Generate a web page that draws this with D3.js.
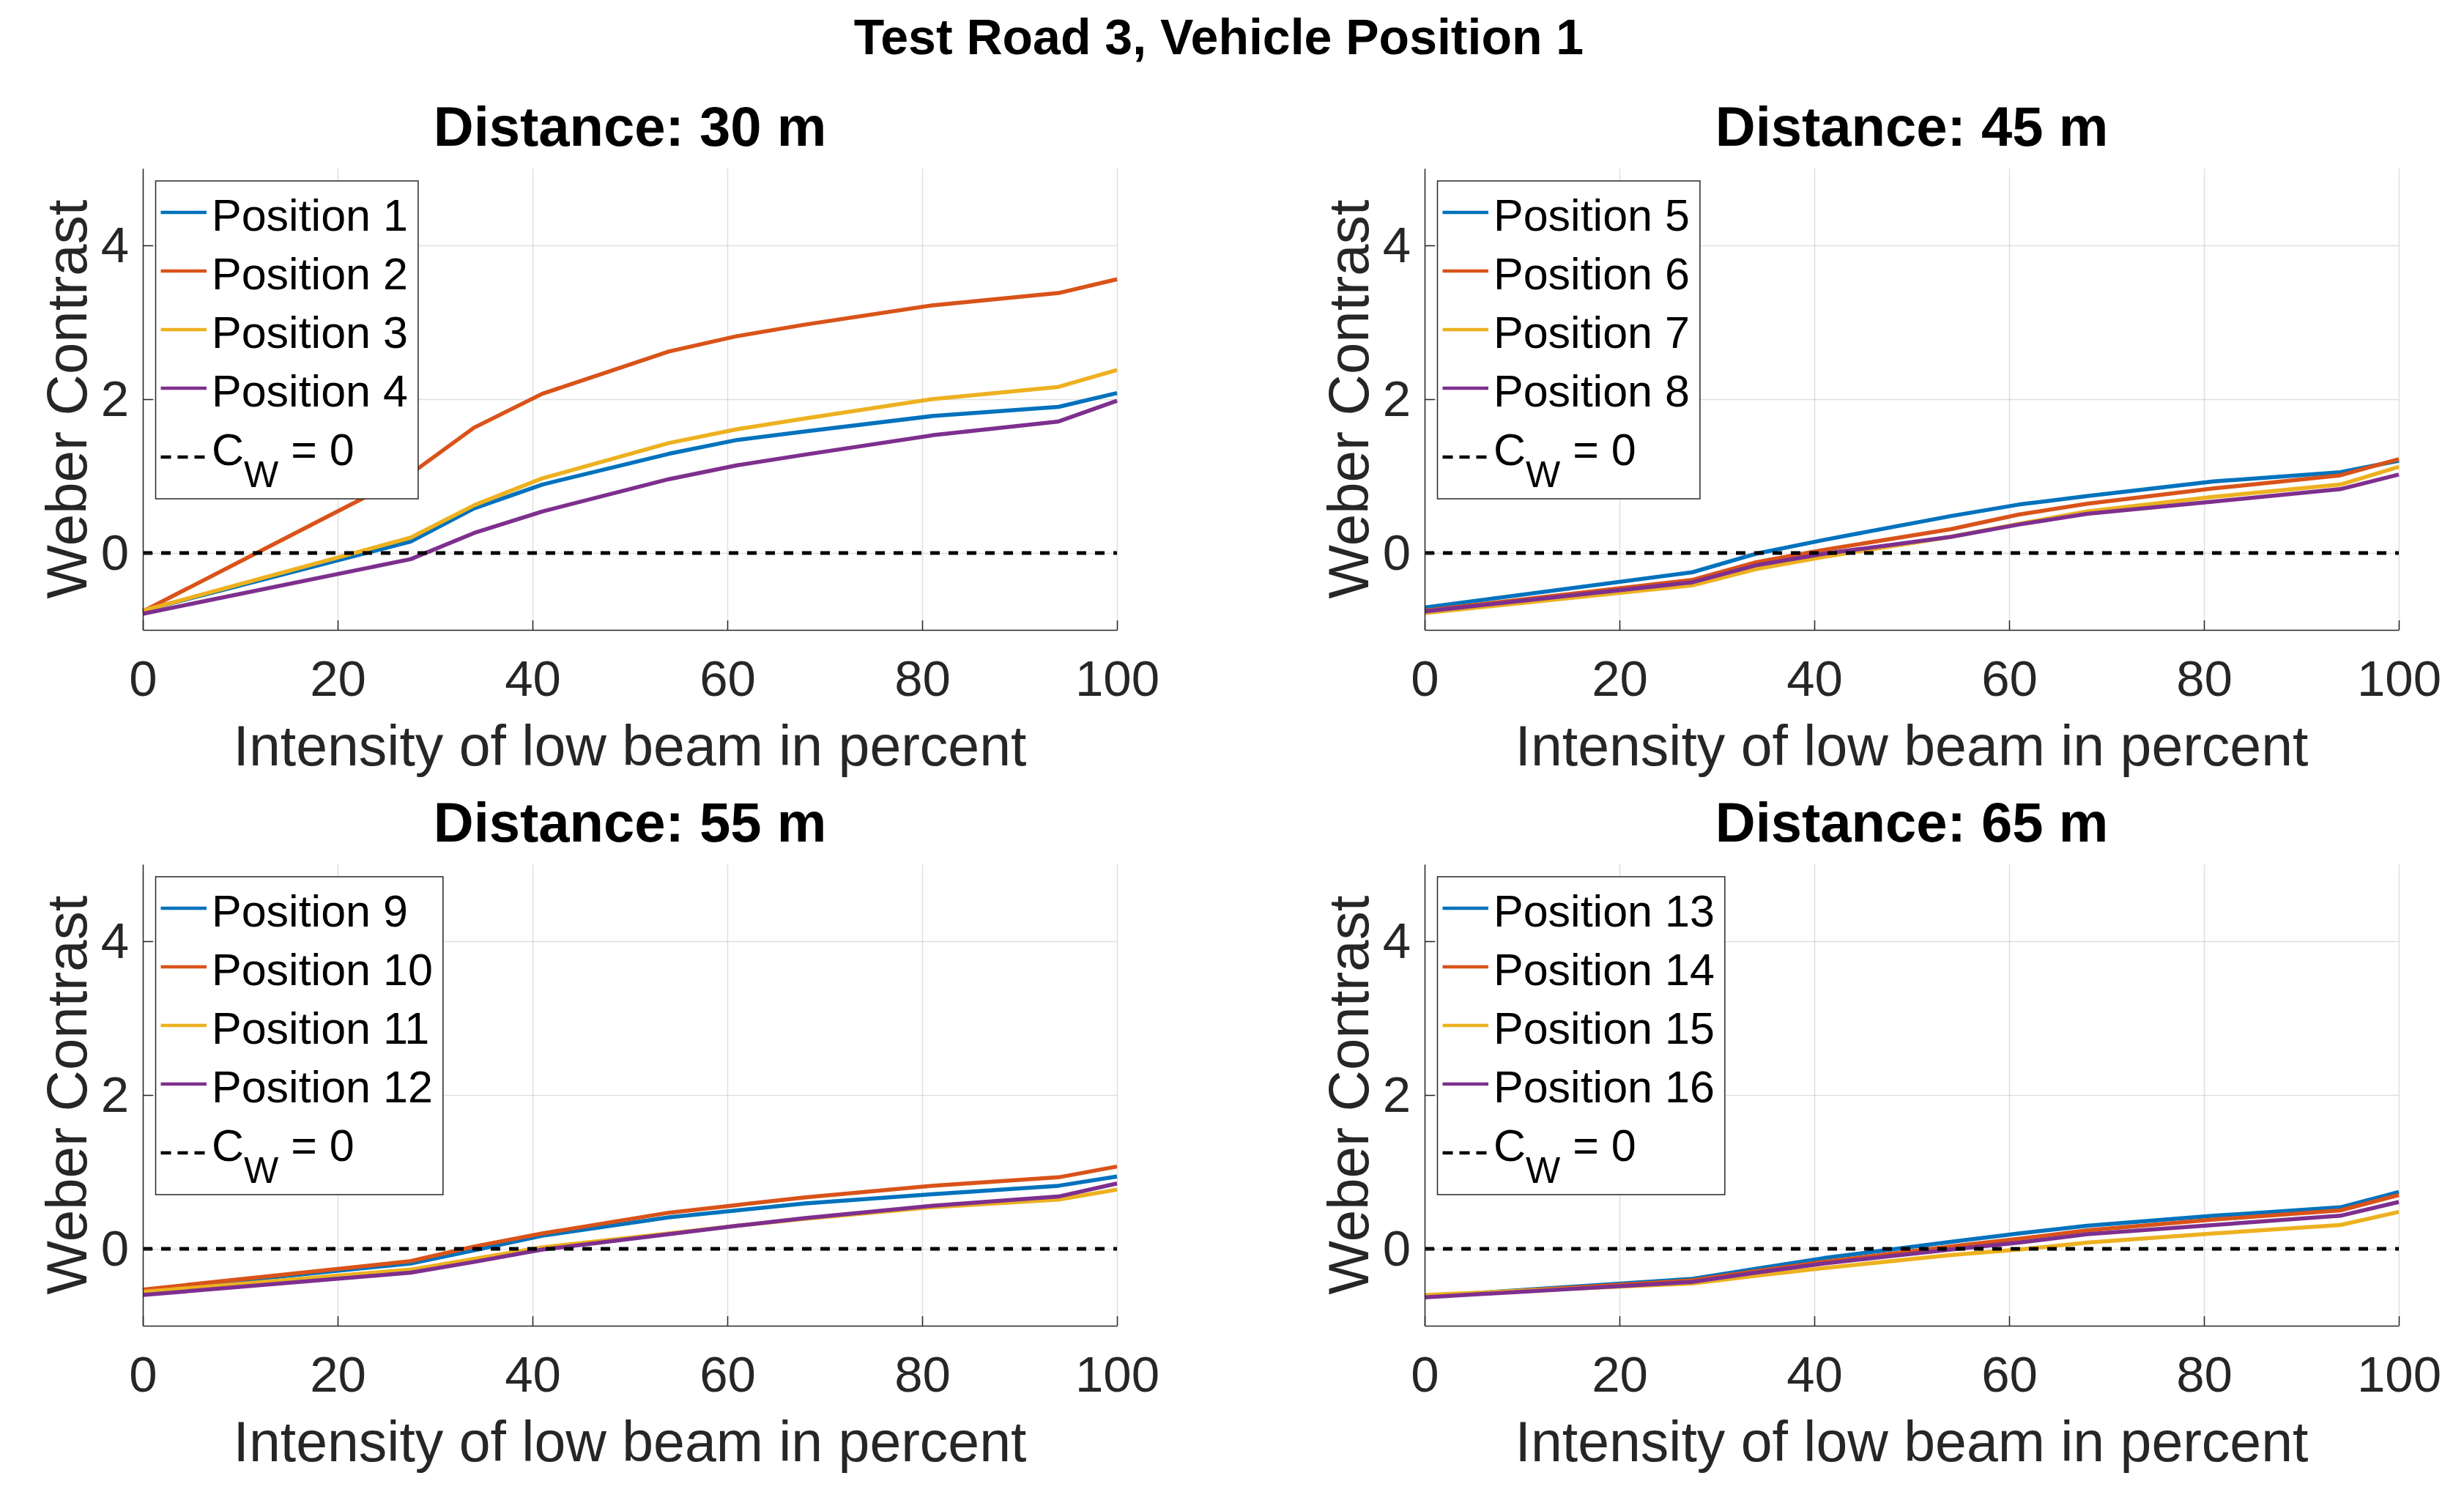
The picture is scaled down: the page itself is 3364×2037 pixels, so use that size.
<!DOCTYPE html>
<html>
<head>
<meta charset="utf-8">
<script src="https://cdn.jsdelivr.net/npm/d3@7"></script>
<style>
  body { margin: 0; background: #fff; }
</style>
</head>
<body>
<svg></svg>
<script>

// data

const intensity = [0, 27.5, 34, 41, 54, 61, 68, 81, 94, 100];

const pos1  = [-0.75,  0.15,  0.58,  0.89,  1.29,  1.47,  1.58,  1.78,  1.90,  2.08];
const pos2  = [-0.76,  1.03,  1.63,  2.07,  2.62,  2.82,  2.97,  3.22,  3.38,  3.56];
const pos3  = [-0.75,  0.20,  0.62,  0.97,  1.43,  1.61,  1.75,  2.00,  2.16,  2.38];
const pos4  = [-0.79, -0.08,  0.26,  0.54,  0.96,  1.14,  1.28,  1.53,  1.71,  1.98];

const pos5  = [-0.71, -0.25, -0.01,  0.17,  0.48,  0.63,  0.74,  0.93,  1.05,  1.20];
const pos6  = [-0.75, -0.35, -0.12,  0.04,  0.31,  0.50,  0.64,  0.84,  1.01,  1.22];
const pos7  = [-0.78, -0.42, -0.21, -0.05,  0.21,  0.38,  0.54,  0.73,  0.89,  1.12];
const pos8  = [-0.76, -0.38, -0.16, -0.01,  0.21,  0.37,  0.51,  0.67,  0.83,  1.02];

const pos9  = [-0.54, -0.19, -0.02,  0.17,  0.41,  0.50,  0.59,  0.71,  0.82,  0.94];
const pos10 = [-0.53, -0.16,  0.03,  0.20,  0.47,  0.57,  0.67,  0.82,  0.93,  1.07];
const pos11 = [-0.56, -0.27, -0.13,  0.02,  0.20,  0.30,  0.39,  0.54,  0.64,  0.77];
const pos12 = [-0.60, -0.31, -0.17, -0.01,  0.19,  0.30,  0.40,  0.56,  0.68,  0.85];

const pos13 = [-0.62, -0.39, -0.26, -0.12,  0.09,  0.20,  0.30,  0.43,  0.54,  0.74];
const pos14 = [-0.62, -0.41, -0.29, -0.17,  0.03,  0.13,  0.24,  0.38,  0.50,  0.70];
const pos15 = [-0.60, -0.45, -0.35, -0.25, -0.08, -0.01,  0.08,  0.20,  0.31,  0.48];
const pos16 = [-0.63, -0.43, -0.31, -0.19, -0.01,  0.08,  0.19,  0.31,  0.43,  0.61];

const panelTitles = ['Distance: 30 m', 'Distance: 45 m', 'Distance: 55 m', 'Distance: 65 m'];
const panelSeries = [
  [pos1, pos2, pos3, pos4],
  [pos5, pos6, pos7, pos8],
  [pos9, pos10, pos11, pos12],
  [pos13, pos14, pos15, pos16]
];
const legendLabels = [
  ['Position 1', 'Position 2', 'Position 3', 'Position 4'],
  ['Position 5', 'Position 6', 'Position 7', 'Position 8'],
  ['Position 9', 'Position 10', 'Position 11', 'Position 12'],
  ['Position 13', 'Position 14', 'Position 15', 'Position 16']
];

const xTicks = [0, 20, 40, 60, 80, 100];
const yTicks = [0, 2, 4];
const xDomain = [0, 100];
const yDomain = [-1, 5];

const colors = ['#0072BD', '#D95319', '#EDB120', '#7E2F8E'];


// root svg

const W = 3364, H = 2037;
const font = "'Liberation Sans', Arial, Helvetica, sans-serif";
const axisColor = '#262626';

const svg = d3.select('svg')
  .attr('width', W)
  .attr('height', H)
  .style('font-family', font);

svg.append('rect')
  .attr('width', W)
  .attr('height', H)
  .style('fill', '#fff');


// super title

svg.append('text')
  .attr('x', 1664)
  .attr('y', 74)
  .attr('text-anchor', 'middle')
  .style('font-size', '68px')
  .style('font-weight', 'bold')
  .style('fill', '#000')
  .text('Test Road 3, Vehicle Position 1');


// panels

const colLeft = [195, 1945];
const rowTop = [230, 1180];
const pw = 1330, ph = 630;

panelTitles.forEach((title, i) => {
  const col = i % 2, row = Math.floor(i / 2);

  const g = svg.append('g')
    .attr('transform', `translate(${colLeft[col]},${rowTop[row]})`);

  const x = d3.scaleLinear().domain(xDomain).range([0, pw]);
  const y = d3.scaleLinear().domain(yDomain).range([ph, 0]);

  // grid
  const gridX = g.append('g')
    .attr('transform', `translate(0,${ph})`)
    .call(d3.axisBottom(x).tickValues(xTicks).tickSize(-ph).tickFormat(''));
  const gridY = g.append('g')
    .call(d3.axisLeft(y).tickValues(yTicks).tickSize(-pw).tickFormat(''));
  [gridX, gridY].forEach(gg => {
    gg.select('.domain').remove();
    gg.selectAll('line')
      .attr('stroke', axisColor)
      .attr('stroke-opacity', 0.15)
      .attr('stroke-width', 1.5);
  });

  // series
  const line = d3.line()
    .x(d => x(d[0]))
    .y(d => y(d[1]));

  panelSeries[i].forEach((s, k) => {
    g.append('path')
      .attr('d', line(d3.zip(intensity, s)))
      .attr('fill', 'none')
      .attr('stroke', colors[k])
      .attr('stroke-width', 5.5)
      .attr('stroke-linejoin', 'round');
  });

  // C_W = 0
  g.append('line')
    .attr('x1', x(xDomain[0]))
    .attr('x2', x(xDomain[1]))
    .attr('y1', y(0))
    .attr('y2', y(0))
    .attr('stroke', '#000')
    .attr('stroke-width', 5)
    .attr('stroke-dasharray', '13,12');

  // axes
  const xAxisG = g.append('g')
    .attr('transform', `translate(0,${ph})`)
    .call(d3.axisBottom(x).tickValues(xTicks).tickFormat(d3.format('d'))
      .tickSizeInner(-13).tickSizeOuter(0).tickPadding(41));
  const yAxisG = g.append('g')
    .call(d3.axisLeft(y).tickValues(yTicks).tickFormat(d3.format('d'))
      .tickSizeInner(-14).tickSizeOuter(0).tickPadding(19));

  [xAxisG, yAxisG].forEach(a => {
    a.attr('font-family', font).attr('font-size', 69);
    a.select('.domain').attr('stroke', axisColor).attr('stroke-width', 1.5);
    a.selectAll('.tick line').attr('stroke', axisColor).attr('stroke-width', 1.5);
    a.selectAll('.tick text').attr('fill', axisColor);
  });

  // titles and labels
  g.append('text')
    .attr('x', pw / 2)
    .attr('y', -31)
    .attr('text-anchor', 'middle')
    .style('font-size', '76px')
    .style('font-weight', 'bold')
    .style('fill', '#000')
    .text(title);

  g.append('text')
    .attr('x', pw / 2)
    .attr('y', ph + 185)
    .attr('text-anchor', 'middle')
    .style('font-size', '77px')
    .style('fill', axisColor)
    .text('Intensity of low beam in percent');

  g.append('text')
    .attr('transform', `translate(-77,${ph / 2}) rotate(-90)`)
    .attr('text-anchor', 'middle')
    .style('font-size', '78px')
    .style('fill', axisColor)
    .text('Weber Contrast');

  // legend
  const lg = g.append('g').attr('transform', 'translate(17.5,17)');

  legendLabels[i].forEach((label, k) => {
    lg.append('line')
      .attr('x1', 7).attr('x2', 69.5)
      .attr('y1', 43 + 80 * k).attr('y2', 43 + 80 * k)
      .attr('stroke', colors[k])
      .attr('stroke-width', 4.5);
    lg.append('text')
      .attr('class', 'leg-text')
      .attr('x', 76.5)
      .attr('y', 68 + 80 * k)
      .style('font-size', '61px')
      .style('fill', '#000')
      .text(label);
  });

  lg.append('line')
    .attr('x1', 7).attr('x2', 69.5)
    .attr('y1', 377).attr('y2', 377)
    .attr('stroke', '#000')
    .attr('stroke-width', 4.5)
    .attr('stroke-dasharray', '14,9');

  const cw = lg.append('text')
    .attr('class', 'leg-text')
    .attr('x', 76.5)
    .attr('y', 388)
    .style('font-size', '61px')
    .style('fill', '#000');
  cw.append('tspan').text('C');
  cw.append('tspan').attr('dy', 30).style('font-size', '50px').text('W');
  cw.append('tspan').attr('dy', -30).text(' = 0');

  let maxEnd = 0;
  lg.selectAll('.leg-text').each(function() {
    const b = this.getBBox();
    maxEnd = Math.max(maxEnd, b.x + b.width);
  });

  lg.insert('rect', ':first-child')
    .attr('width', maxEnd + 14)
    .attr('height', 434)
    .attr('fill', '#fff')
    .attr('stroke', axisColor)
    .attr('stroke-width', 1.5);
});

</script>
</body>
</html>
